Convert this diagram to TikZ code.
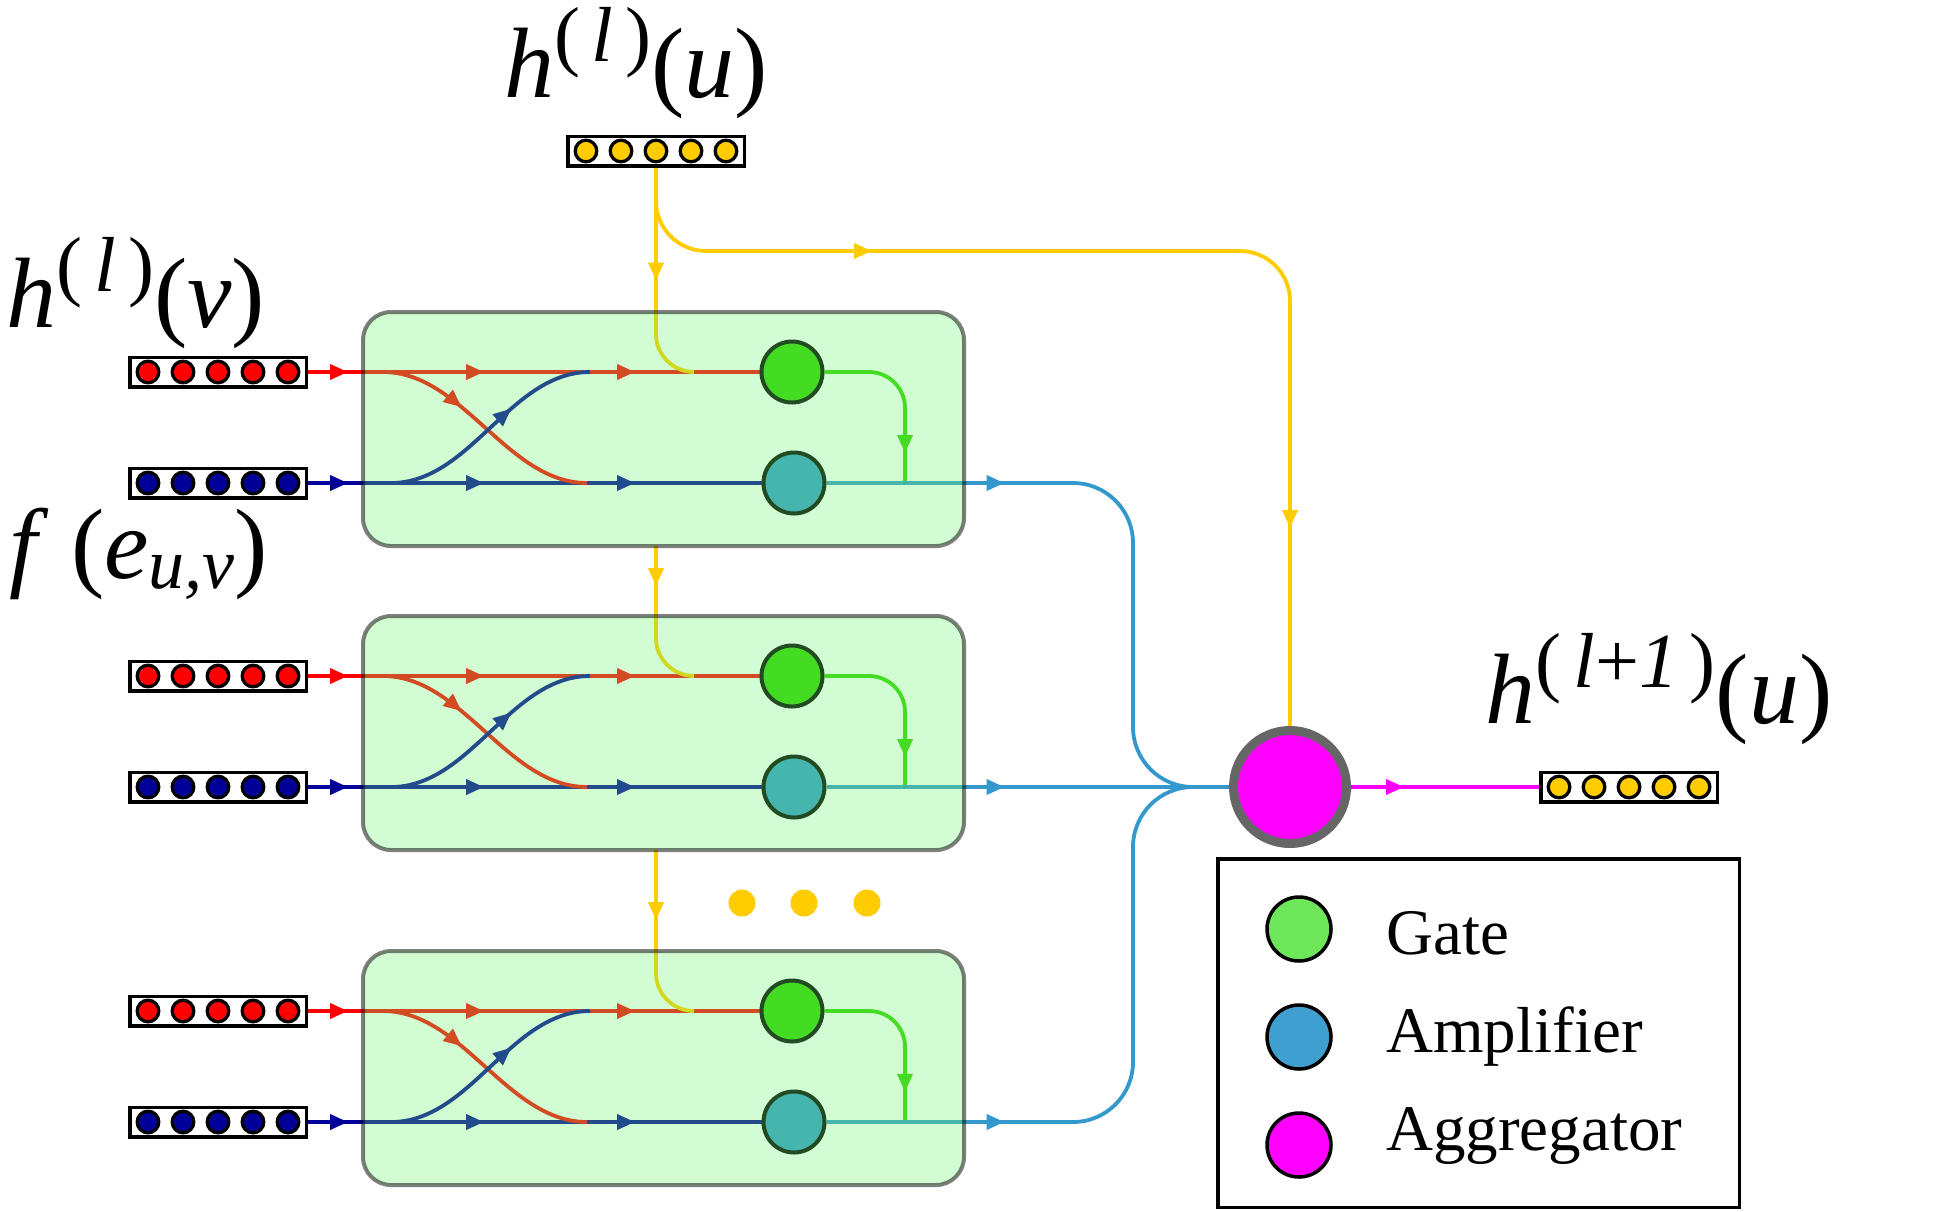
\documentclass[tikz,border=0pt]{standalone}
\usepackage{fontspec}
\setmainfont{Liberation Serif}
\usetikzlibrary{arrows.meta,decorations.markings}
\pgfdeclarelayer{bg}
\pgfdeclarelayer{fg}
\pgfsetlayers{bg,main,fg}
\definecolor{cred}{RGB}{255,0,0}
\definecolor{cnavy}{RGB}{0,0,153}
\definecolor{cyel}{RGB}{255,204,0}
\definecolor{cgate}{RGB}{49,210,0}
\definecolor{camp}{RGB}{51,153,204}
\definecolor{cmag}{RGB}{255,0,255}
\definecolor{boxfill}{RGB}{110,245,110}
\definecolor{lgate}{RGB}{110,230,90}
\definecolor{lamp}{RGB}{63,159,207}
\definecolor{agggray}{RGB}{102,102,102}
\newcommand\supx[1]{\raisebox{18pt}{\fontsize{39}{39}\selectfont #1}}
\newcommand\subx[1]{\raisebox{-5pt}{\fontsize{36}{36}\selectfont #1}}
\newcommand\featvec[4]{%
  \node[vecbox] (#1) at (#2,#3) {};
  \foreach \i in {1,...,5}{\node[veccirc,fill=#4] (#1c\i) at ({#2+(\i-3)*35},#3) {};}
}
\newcommand\unitrow[2]{%
  \pgfmathsetmacro\By{#2+111}
  \featvec{vr#1}{218}{#2}{cred}
  \featvec{vb#1}{218}{\By}{cnavy}
  \node[gatec,fill=cgate] (g#1) at (792,#2) {};
  \node[gatec,fill=camp] (a#1) at (794,\By) {};
  \coordinate (rs#1) at (383,#2);
  \coordinate (re#1) at (587,\By);
  \coordinate (bs#1) at (391,\By);
  \coordinate (be#1) at (590,#2);
  \coordinate (yc#1) at (656,#2);
  \coordinate (ym#1) at (694,#2);
  \coordinate (gc#1) at (905,#2);
  \coordinate (gj#1) at (905,\By);
  \coordinate (yb#1) at (656,#2+174);
  \begin{pgfonlayer}{bg}
    \draw[ln,cred,arrat=20pt,arrat=88pt,arrat=163.5pt] (vr#1.east) -- (g#1.west);
    \draw[ln,cnavy,arrat=20pt,arrat=88pt,arrat=163.5pt] (vb#1.east) -- (a#1.west);
    \draw[ln,cred,arrat=0.37] (rs#1) .. controls +(80,0) and +(-80,0) .. (re#1);
    \draw[ln,cnavy,arrat=0.62] (bs#1) .. controls +(80,0) and +(-80,0) .. (be#1);
    \draw[ln,cgate,rounded corners=18pt,arrat=73pt] (g#1.east) -- (gc#1) -- (gj#1);
  \end{pgfonlayer}
  \begin{pgfonlayer}{fg}
    \node[panel,minimum width=300.5pt,minimum height=117pt] (p#1) at (663.5,#2+57) {};
  \end{pgfonlayer}
}
\begin{document}
\begin{tikzpicture}[x=0.5pt,y=-0.5pt,
  ln/.style={line width=1.9pt},
  arrat/.style={postaction={decorate,decoration={markings,mark=at position #1 with {\arrow{Triangle[length=9pt,width=7.5pt]}}}}},
  vecbox/.style={draw,line width=1.75pt,fill=white,minimum width=88.25pt,minimum height=14.75pt,inner sep=0pt},
  veccirc/.style={circle,draw,line width=1.65pt,minimum size=10.8pt,inner sep=0pt},
  gatec/.style={circle,draw=black,line width=2pt,minimum size=30.5pt,inner sep=0pt},
  panel/.style={draw=black,draw opacity=0.5,line width=2pt,fill=boxfill,fill opacity=0.31,rounded corners=14pt,inner sep=0pt},
  ydot/.style={circle,fill=cyel,minimum size=13.5pt,inner sep=0pt},
  lcirc/.style={circle,draw=black,line width=1.75pt,minimum size=32pt,inner sep=0pt},
  ltext/.style={anchor=base west,font=\fontsize{32.5}{32.5}\selectfont,inner sep=0pt},
  biglabel/.style={font=\fontsize{50}{50}\selectfont,inner sep=0pt,anchor=base}
]
\useasboundingbox (0,0) rectangle (1958,1211);

% top input vector and output vector
\featvec{ytop}{656}{151}{cyel}
\featvec{vout}{1629}{787}{cyel}

% aggregator
\node[circle,draw=agggray,line width=4.5pt,fill=cmag,minimum size=56.5pt,inner sep=0pt] (agg) at (1290,787) {};

% units
\unitrow{1}{372}
\unitrow{2}{676}
\unitrow{3}{1011}

% yellow connections
\coordinate (yk1) at (656,251);
\coordinate (yk2) at (1290,251);
\begin{pgfonlayer}{bg}
  \draw[ln,cyel,rounded corners=19pt,arrat=56.5pt] (ytop.south) -- (yc1) -- (ym1);
  \draw[ln,cyel,rounded corners=19pt,arrat=20pt] (yb1) -- (yc2) -- (ym2);
  \draw[ln,cyel,rounded corners=19pt,arrat=35pt] (yb2) -- (yc3) -- (ym3);
  \draw[ln,cyel,rounded corners=25pt,arrat=139pt,arrat=-99pt] (ytop.south) -- (yk1) -- (yk2) -- (agg.north);
  % amplifier outputs
  \coordinate (k1) at (1133,483);
  \coordinate (k3) at (1133,1122);
  \coordinate (kj) at (1133,787);
  \draw[ln,camp,rounded corners=30pt,arrat=89pt] (a1.east) -- (k1) -- (kj) -- (agg.west);
  \draw[ln,camp,arrat=89pt] (a2.east) -- (agg.west);
  \draw[ln,camp,rounded corners=30pt,arrat=89pt] (a3.east) -- (k3) -- (kj) -- (agg.west);
  \draw[ln,cmag,arrat=26.5pt] (agg.east) -- (vout.west);
\end{pgfonlayer}

% dots
\node[ydot] (d1) at (742,903) {};
\node[ydot] (d2) at (804,903) {};
\node[ydot] (d3) at (867,903) {};

% labels
\node[biglabel] (lhu) at (636,97) {\textit{h}\supx{(\hspace{0.15em}\textit{l}\hspace{0.15em})}(\textit{u})};
\node[biglabel] (lhv) at (136,327) {\textit{h}\supx{(\hspace{0.15em}\textit{l}\hspace{0.15em})}(\textit{v})};
\node[biglabel] (lfe) at (139,578) {\textit{f}\hspace{0.22em}(\textit{e}\subx{\textit{u,v}})};
\node[biglabel] (lhn) at (1659,723) {\textit{h}\supx{(\hspace{0.15em}\textit{l}+\textit{1}\hspace{0.15em})}(\textit{u})};

% legend
\node[draw,line width=1.75pt,minimum width=260.75pt,minimum height=174.25pt,inner sep=0pt] (leg) at (1478.5,1033) {};
\node[lcirc,fill=lgate] (lg) at (1299,929) {};
\node[lcirc,fill=lamp] (la) at (1299,1037) {};
\node[lcirc,fill=cmag] (lm) at (1299,1145) {};
\node[ltext] (tg) at (1386,954) {Gate};
\node[ltext] (ta) at (1386,1052) {Amplifier};
\node[ltext] (tm) at (1386,1150) {Aggregator};
\end{tikzpicture}
\end{document}
